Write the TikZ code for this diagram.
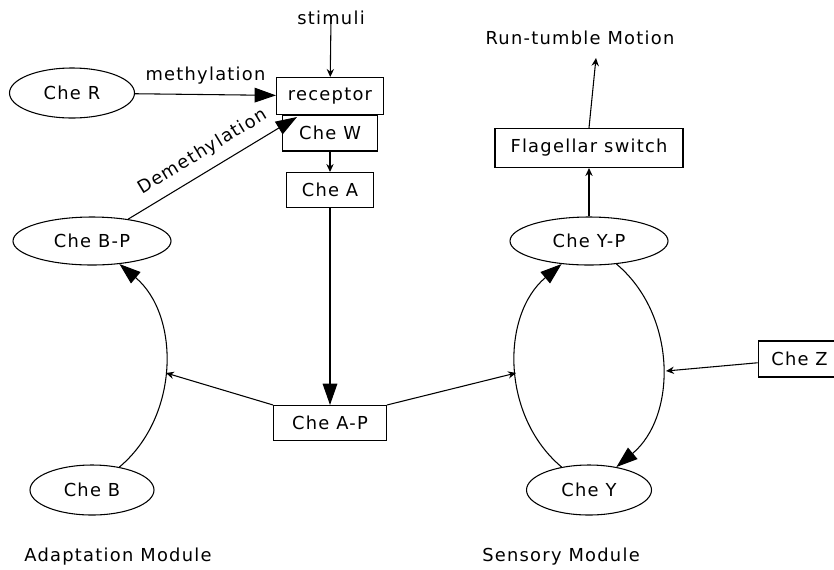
\documentclass[tikz,border=0pt]{standalone}
\usepackage{fontspec}
\setmainfont{DejaVu Sans}[LetterSpace=7]
\usetikzlibrary{arrows.meta,shapes.geometric}

\tikzset{
  scatola/.style={draw, rectangle, inner sep=0pt, line width=0.8pt},
  ovale/.style={draw, ellipse, inner sep=0pt, line width=0.8pt},
  grande/.style={line width=0.8pt, -{Triangle[length=16pt,width=11pt]}},
  piccola/.style={line width=0.8pt, -{Stealth[length=6pt,width=5.5pt,inset=2pt]}},
}

\begin{document}
\begin{tikzpicture}[x=0.75pt,y=-0.75pt,
    every node/.style={font=\fontsize{13.4}{16}\selectfont}]
\useasboundingbox (0,0) rectangle (834,569);

% nodi - modulo di adattamento
\node at (331,18) (stim) {stimuli};
\node[scatola, minimum width=80.25pt, minimum height=27.75pt] at (330,96) (rec) {receptor};
\node[scatola, minimum width=71.25pt, minimum height=27pt] at (330,133) (cheW) {Che W};
\node[scatola, minimum width=65.25pt, minimum height=26.25pt] at (330,190) (cheA) {Che A};
\node[scatola, minimum width=84.75pt, minimum height=26.25pt] at (330,423) (cheAP) {Che A-P};
\node[ovale, minimum width=93.75pt, minimum height=37.5pt] at (72,93) (cheR) {Che R};
\node[ovale, minimum width=118.5pt, minimum height=36pt] at (92,241) (cheBP) {Che B-P};
\node[ovale, minimum width=93pt, minimum height=37.5pt] at (92,490) (cheB) {Che B};

% nodi - modulo sensoriale
\node at (580,38) (run) {Run-tumble Motion};
\node[scatola, minimum width=141pt, minimum height=29.25pt] at (589,148) (flag) {Flagellar switch};
\node[ovale, minimum width=118.5pt, minimum height=36pt] at (589,241) (cheYP) {Che Y-P};
\node[ovale, minimum width=93.75pt, minimum height=37.5pt] at (589,490) (cheY) {Che Y};
\node[scatola, minimum width=62pt, minimum height=27pt] at (799.5,359) (cheZ) {Che Z};

\node at (118,557) (adapt) {Adaptation Module};
\node at (561,557) (sens) {Sensory Module};

\coordinate (dem) at (297,117);
\coordinate (pa) at (166,373);
\coordinate (ps) at (516,373);
\coordinate (pz) at (666,371);
\coordinate (pr) at (596,58);

% frecce
\draw[piccola] (stim.center) -- (rec);
\draw[grande] (cheR) -- (rec) node[midway, above=4pt] {methylation};
\draw[grande] (cheBP) -- (dem) node[pos=0.5, above=4pt, sloped] {Demethylation};
\draw[piccola] (cheW) -- (cheA);
\draw[grande] (cheA) -- (cheAP);
\draw[piccola] (cheAP.north west) -- (pa);
\draw[piccola] (cheAP.north east) -- (ps);
\draw[grande] (cheB) to[bend right=50] (cheBP);

\draw[grande] (cheY) to[bend left=50] (cheYP);
\draw[grande] (cheYP) to[bend left=50] (cheY);
\draw[piccola] (cheZ) -- (pz);
\draw[piccola] (cheYP) -- (flag);
\draw[piccola] (flag.north) -- (pr);
\end{tikzpicture}
\end{document}
